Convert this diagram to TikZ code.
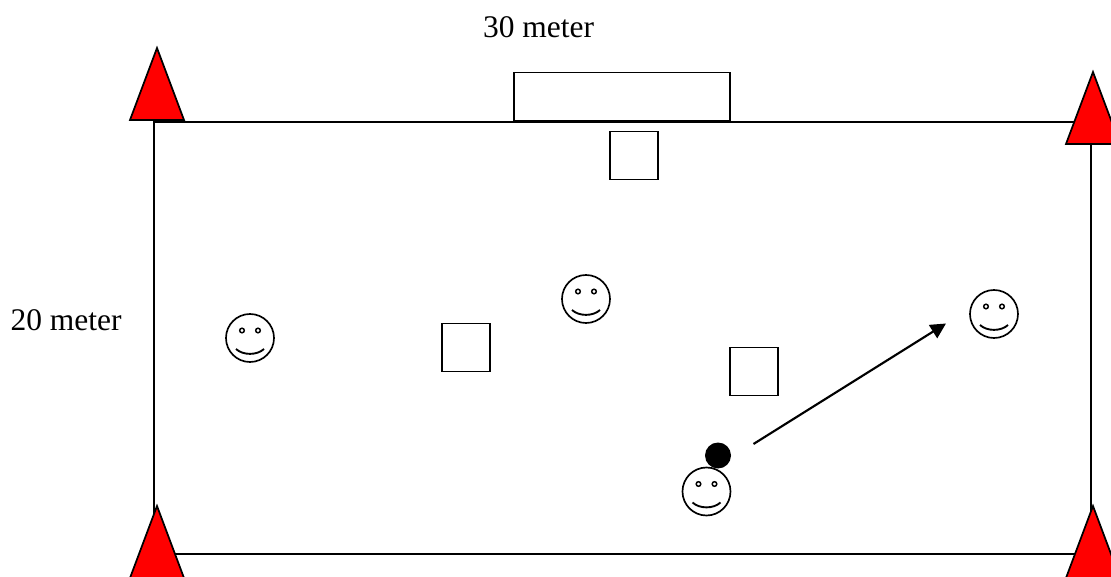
\documentclass[tikz,border=0pt]{standalone}
\usepackage{fontspec}
\setmainfont{Liberation Serif}
\usetikzlibrary{arrows.meta}
\tikzset{line/.style={draw, line width=1.6pt, -{Triangle[length=11.5pt,width=11.5pt]}}}
\tikzset{cone/.pic={\draw[line width=1.3pt, fill=red, miter limit=10] (0,0) -- (-27,72) -- (27,72) -- cycle;}}
\tikzset{smiley/.pic={
    \draw[line width=1.25pt] (0,0) circle (24);
    \draw[line width=1.1pt] (-8,-7.5) circle (2.3);
    \draw[line width=1.1pt] (8,-7.5) circle (2.3);
    \draw[line width=1.4pt] (-14,11) .. controls (-7,17.5) and (7,17.5) .. (14,11);
}}

\begin{document}
\begin{tikzpicture}[x=0.75pt,y=-0.75pt]
\tikzstyle{square} = [rectangle, draw, line width=1.2pt, inner sep=0pt, outer sep=0pt, minimum size=36pt]
\tikzstyle{label} = [inner sep=0pt, font=\fontsize{23.6}{28}\selectfont]

\clip (0,0) rectangle (1111,577);
% field
    \draw[line width=1.25pt] (154,122) rectangle (1091,554);
    \node [rectangle, draw, line width=1.3pt, inner sep=0pt, outer sep=0pt, minimum width=162pt, minimum height=36pt, anchor=south west] (goal) at (514,120.5){};
% squares
    \node [square, anchor=north west] (square1) at (610,131.5){};
    \node [square, anchor=north west] (square2) at (442,323.5){};
    \node [square, anchor=north west] (square3) at (730,347.5){};
% texts
    \node [label] (length) at (538.5,27){30 meter};
    \node [label] (width) at (66,320){20 meter};
% players
    \pic (player1) at (250,338) {smiley};
    \pic (player2) at (586,299) {smiley};
    \pic (player3) at (994,314) {smiley};
    \pic (player4) at (706.5,491.5) {smiley};
    \node [circle, fill=black, inner sep=0pt, minimum size=19.5pt] (ball) at (718,455.5){};
% arrows
    \coordinate (pass start) at (753.5,444);
    \coordinate (pass end) at (946,323.5);
    \path [line] (pass start) -- (pass end);
% cones
    \pic (cone1) at (157,48) {cone};
    \pic (cone2) at (1093,72) {cone};
    \pic (cone3) at (157,506) {cone};
    \pic (cone4) at (1093,506) {cone};
\end{tikzpicture}
\end{document}
